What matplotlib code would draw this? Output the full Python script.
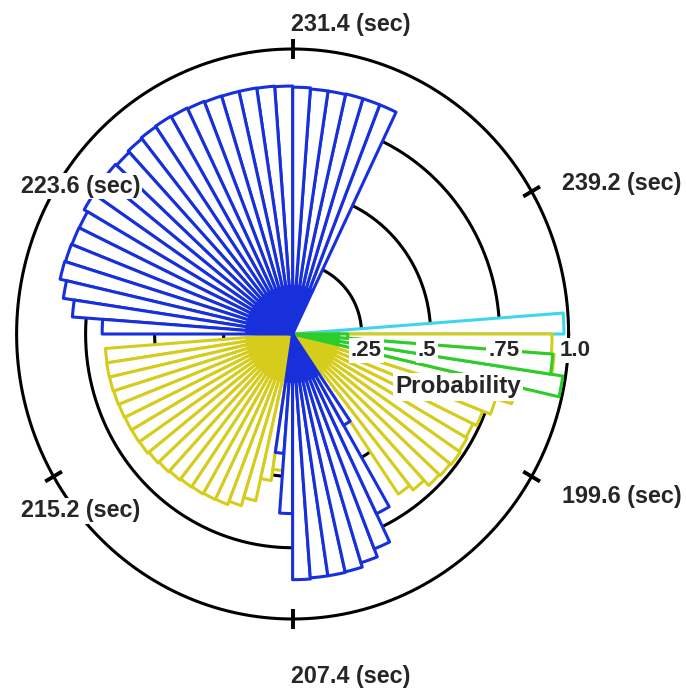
import numpy as np
import matplotlib.pyplot as plt

plt.rcParams['font.family'] = ['Liberation Sans', 'DejaVu Sans']

W, H = 686, 690
N_BINS = 84                      # bins around the circle (one period)
BIN_W = 2 * np.pi / N_BINS

# bin index (counted counter-clockwise from 3 o'clock) and probability per series
blue_bins = list(range(15, 42)) + list(range(61, 71))
blue_prob = [.864, .864, .864, .862, .862, .866, .870, .872, .873, .873,
             .874, .877, .880, .882, .880, .876, .870, .875, .876, .872,
             .858, .859, .861, .864, .840, .800, .690,
             .42, .63, .862, .858, .858, .856, .84, .81, .70, .37]

yellow_bins = list(range(43, 62)) + list(range(71, 84))
yellow_prob = [.680, .681, .680, .678, .676, .674, .673, .671, .665, .660,
               .655, .650, .648, .645, .643, .630, .600, .520, .480,
               .68, .70, .725, .73, .735, .73, .725, .74, .77, .83, .88, .95, .94]

green_bins = [81, 82, 83]
green_prob = [.99, .945, .20]

cyan_bins = [0]
cyan_prob = [.983]

ring_levels = [.25, .5, .75, 1.0]
ring_labels = ['.25', '.5', '.75', '1.0']

tick_angles = [90, 30, -30, -90, -150, 150]
tick_labels = ['231.4 (sec)', '239.2 (sec)', '199.6 (sec)',
               '207.4 (sec)', '215.2 (sec)', '223.6 (sec)']

fig = plt.figure(figsize=(W / 100, H / 100), dpi=100)
fig.patch.set_facecolor('white')

# slightly taller than wide, like the source picture
ax = fig.add_axes([2.8 / W, 56.75 / H, 579.6 / W, 598.5 / H], projection='polar')
ax.set_aspect('auto')
ax.set_rlim(0, 1.05)
ax.axis('off')

th = np.linspace(0, 2 * np.pi, 721)
for lev in ring_levels:
    ax.plot(th, np.full_like(th, lev), color='black', lw=2.2, zorder=1)

for a in tick_angles:
    t = np.deg2rad(a)
    ax.plot([t, t], [0.965, 1.035], color='black', lw=2.8, zorder=1,
            solid_capstyle='butt')

CORE = 0.17   # where the bar outlines merge into a solid patch near the centre


def rose(bins, prob, color, z):
    theta = np.array(bins) * BIN_W
    ax.bar(theta, prob, width=BIN_W, bottom=0, align='edge',
           facecolor='white', edgecolor=color, linewidth=2.2, zorder=z,
           joinstyle='round')
    ax.bar(theta, np.minimum(prob, CORE), width=BIN_W, bottom=0, align='edge',
           facecolor=color, edgecolor=color, linewidth=1.0, zorder=z + 0.5)


rose(cyan_bins, cyan_prob, '#3fd6ea', 2)
rose(yellow_bins, yellow_prob, '#d6cc1c', 3)
rose(green_bins, green_prob, '#2ccc2a', 4)
rose(blue_bins, blue_prob, '#1730dc', 5)

# time labels around the circle (pixel positions of their left/centre points)
label_px = [(291, 24), (562, 184), (562, 496), (291, 676), (21, 511), (21, 186)]
for (x, y), s in zip(label_px, tick_labels):
    fig.text(x / W, 1 - y / H, s, ha='left', va='center', fontsize=16.8,
             fontweight='bold', color='#262626',
             bbox=dict(facecolor='white', edgecolor='none', pad=1))

# probability scale labels
prob_px = [366, 427, 504, 575]
for x, s in zip(prob_px, ring_labels):
    fig.text(x / W, 1 - 350 / H, s, ha='center', va='center', fontsize=16,
             fontweight='bold', color='#262626',
             bbox=dict(facecolor='white', edgecolor='none', pad=1.5))
fig.text(458 / W, 1 - 387 / H, 'Probability', ha='center', va='center',
         fontsize=17.5, fontweight='bold', color='#262626',
         bbox=dict(facecolor='white', edgecolor='none', pad=1.5))

fig.savefig('out.png', dpi=100, facecolor='white')
